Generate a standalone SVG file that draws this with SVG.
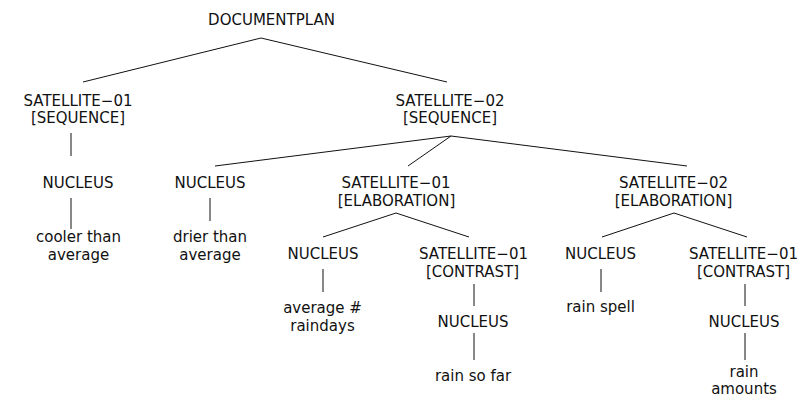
<svg xmlns="http://www.w3.org/2000/svg" width="812" height="398" viewBox="0 0 812 398">
  <style>
    text { font-family: "DejaVu Sans", "Liberation Sans", sans-serif; font-size: 15px; fill: #111; text-anchor: middle; }
    .edge { stroke: #111; stroke-width: 1; fill: none; }
  </style>
  <rect width="812" height="398" fill="#fff"/>

  <!-- tree edges -->
  <g id="edges">
    <path class="edge" d="M261,38 L83,82 M261,38 L447,82"/>
    <path class="edge" d="M71,133 V156 M71,198 V229"/>
    <path class="edge" d="M451,136 L215,166 M451,136 L408,166 M451,136 L687,166"/>
    <path class="edge" d="M210,198 V221"/>
    <path class="edge" d="M396,213 L323,237 M396,213 L469,237"/>
    <path class="edge" d="M674,213 L602,237 M674,213 L747,237"/>
    <path class="edge" d="M323,269 V292"/>
    <path class="edge" d="M474,284 V306 M474,333 V360"/>
    <path class="edge" d="M601,269 V292"/>
    <path class="edge" d="M745,284 V306 M745,333 V360"/>
  </g>

  <g id="documentplan"><text x="271.5" y="25">DOCUMENTPLAN</text></g>

  <g id="sat01-sequence">
    <text x="78" y="105.5">SATELLITE−01</text>
    <text x="78" y="123">[SEQUENCE]</text>
  </g>
  <g id="nucleus-cooler"><text x="78" y="187.5">NUCLEUS</text></g>
  <g id="leaf-cooler">
    <text x="78.5" y="241.5">cooler than</text>
    <text x="78.5" y="260">average</text>
  </g>

  <g id="sat02-sequence">
    <text x="450" y="105.5">SATELLITE−02</text>
    <text x="450" y="123">[SEQUENCE]</text>
  </g>

  <g id="nucleus-drier"><text x="210" y="187.5">NUCLEUS</text></g>
  <g id="leaf-drier">
    <text x="210" y="241.5">drier than</text>
    <text x="210" y="260">average</text>
  </g>

  <g id="sat01-elaboration">
    <text x="396" y="188">SATELLITE−01</text>
    <text x="396.5" y="205.5">[ELABORATION]</text>
  </g>
  <g id="nucleus-raindays"><text x="323" y="259">NUCLEUS</text></g>
  <g id="leaf-raindays">
    <text x="322.5" y="313">average #</text>
    <text x="322.5" y="331">raindays</text>
  </g>
  <g id="sat01-contrast-a">
    <text x="473.5" y="259">SATELLITE−01</text>
    <text x="472.5" y="277">[CONTRAST]</text>
  </g>
  <g id="nucleus-sofar"><text x="473" y="327">NUCLEUS</text></g>
  <g id="leaf-sofar"><text x="473" y="381">rain so far</text></g>

  <g id="sat02-elaboration">
    <text x="673.5" y="188">SATELLITE−02</text>
    <text x="673.5" y="205.5">[ELABORATION]</text>
  </g>
  <g id="nucleus-spell"><text x="600.5" y="259">NUCLEUS</text></g>
  <g id="leaf-spell"><text x="600.5" y="312">rain spell</text></g>
  <g id="sat01-contrast-b">
    <text x="743.5" y="259">SATELLITE−01</text>
    <text x="743.5" y="277">[CONTRAST]</text>
  </g>
  <g id="nucleus-amounts"><text x="744" y="327">NUCLEUS</text></g>
  <g id="leaf-amounts">
    <text x="744" y="377">rain</text>
    <text x="744" y="394">amounts</text>
  </g>
</svg>
